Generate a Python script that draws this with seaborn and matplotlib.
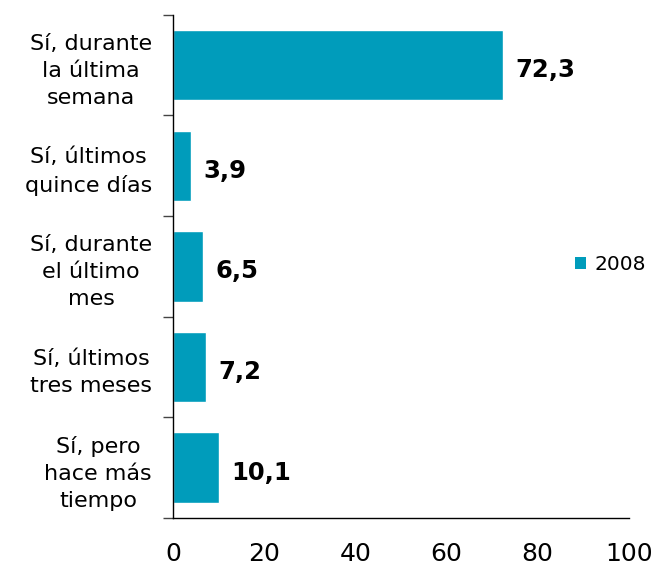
import matplotlib
matplotlib.use("Agg")
import matplotlib.pyplot as plt
import seaborn as sns
import pandas as pd
from matplotlib.patches import Patch
from matplotlib.ticker import FixedLocator

categories = ["Sí, durante\nla última\nsemana", "Sí, últimos\nquince días",
              "Sí, durante\nel último\nmes", "Sí, últimos\ntres meses",
              "Sí, pero\nhace más\ntiempo"]
values = [72.3, 3.9, 6.5, 7.2, 10.1]
series_name = "2008"
bar_color = "#009CBB"

df = pd.DataFrame({"Categoria": categories, "Valor": values})

sns.set_style("white")
plt.rcParams["font.family"] = ["DejaVu Sans"]
plt.rcParams["text.color"] = "black"
plt.rcParams["xtick.labelcolor"] = "black"
plt.rcParams["ytick.labelcolor"] = "black"

fig = plt.figure(figsize=(6.55, 5.69), dpi=100)
ax = fig.add_axes([0.264, 0.0896, 0.696, 0.8844])

sns.barplot(data=df, x="Valor", y="Categoria", orient="h", color=bar_color,
            width=0.7, saturation=1, ax=ax)

# value labels
for i, v in enumerate(values):
    ax.text(v + 2.8, i + 0.05, f"{v:.1f}".replace(".", ","), va="center",
            ha="left", fontsize=17.5, fontweight="bold", color="black")

ax.set_xlim(0, 100)
ax.set_ylim(len(categories) - 0.5, -0.5)
ax.set_xticks([0, 20, 40, 60, 80, 100])
ax.tick_params(axis="x", labelsize=18, length=7, width=1, color="#444444",
               direction="out", pad=10)

# y ticks at category boundaries, labels at centers
ax.yaxis.set_major_locator(FixedLocator([i - 0.5 for i in range(len(categories) + 1)]))
ax.yaxis.set_minor_locator(FixedLocator(list(range(len(categories)))))
ax.set_yticklabels([], minor=False)
ax.set_yticklabels(categories, minor=True, fontsize=16, linespacing=1.45,
                   multialignment="center")
ax.tick_params(axis="y", which="major", length=7, width=1, color="#444444",
               direction="out", left=True)
ax.tick_params(axis="y", which="minor", length=0, pad=15)
ax.set_xlabel("")
ax.set_ylabel("")

for s in ["top", "right"]:
    ax.spines[s].set_visible(False)
for s in ["left", "bottom"]:
    ax.spines[s].set_color("black")
    ax.spines[s].set_linewidth(1)

handle = Patch(facecolor=bar_color, edgecolor="none", label=series_name)
fig.legend(handles=[handle], loc="center left", bbox_to_anchor=(0.866, 0.535),
           frameon=False, fontsize=14.5, handlelength=0.55, handleheight=0.55,
           handletextpad=0.4, borderaxespad=0.2, borderpad=0.2)

fig.savefig("out.png", dpi=100)
